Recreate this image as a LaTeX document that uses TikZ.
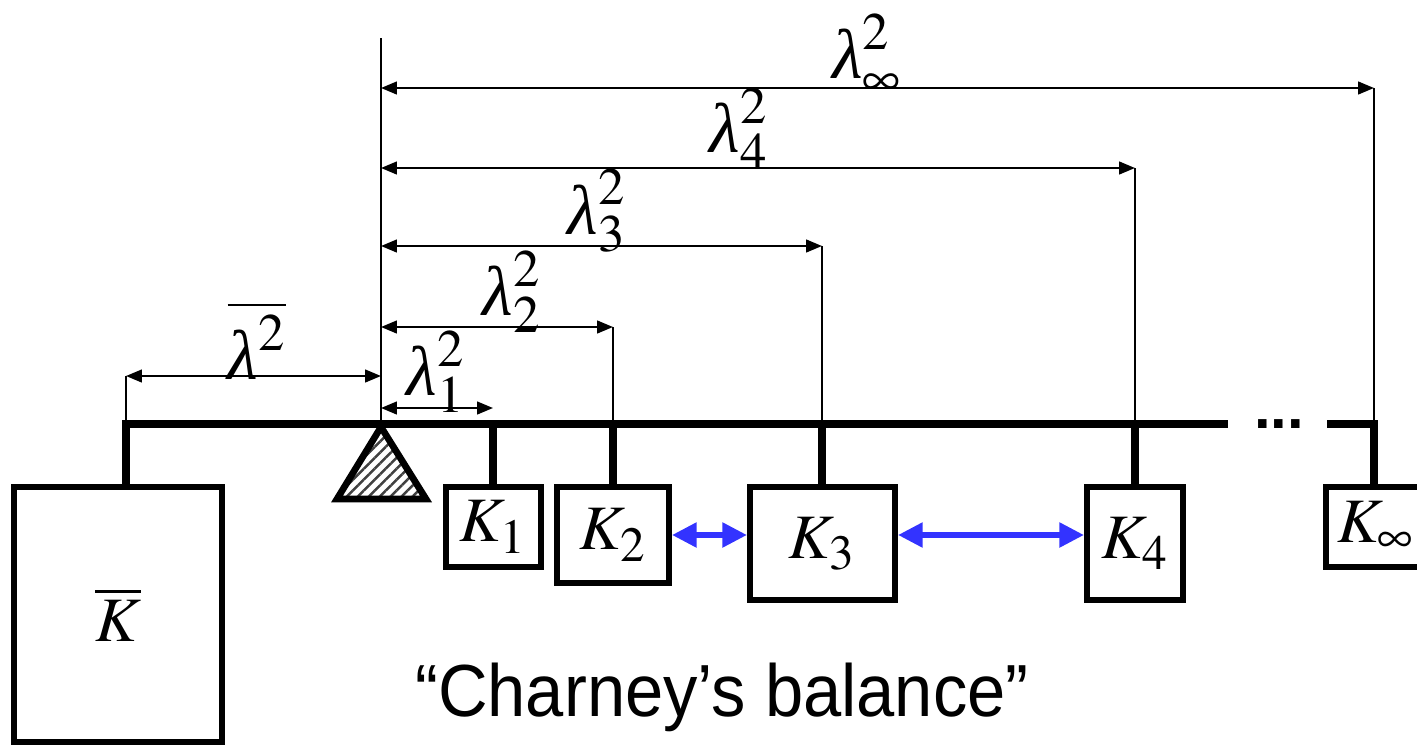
\documentclass[tikz,border=0pt]{standalone}
\usepackage{mathptmx}
\usepackage[no-math]{fontspec}
\newfontfamily\capfont{Liberation Sans}
\newfontfamily\grfont{Liberation Serif}
\usetikzlibrary{arrows.meta,patterns.meta}
\DeclareMathSizes{18}{18}{14}{11}
\DeclareMathSizes{20}{20}{15}{12}
\definecolor{arrblue}{RGB}{51,51,255}
\newcommand\kfont{\fontsize{18}{20}\selectfont}
\newcommand\lamfont{\fontsize{20}{24}\selectfont}
\newcommand\lam{\mbox{\grfont\itshape λ}}
\begin{document}
\begin{tikzpicture}[x=0.01cm,y=-0.01cm,
  beam/.style={line width=2.3pt, line join=miter},
  hang/.style={line width=2.0pt},
  kbox/.style={draw, line width=1.7pt, fill=white, inner sep=0pt, font=\kfont},
  thin/.style={line width=0.6pt},
  dim/.style={line width=0.6pt, {Triangle[length=4.5pt,width=3.6pt]}-{Triangle[length=4.5pt,width=3.6pt]}},
  barr/.style={line width=1.6pt, arrblue, {Triangle[length=7pt,width=6.8pt]}-{Triangle[length=7pt,width=6.8pt]}},
  lab/.style={font=\lamfont, inner sep=0pt}]
\useasboundingbox (0,0) rectangle (1417,745);
% boxes
\node[kbox, minimum width=2.08cm, minimum height=2.55cm] (Kb) at (118,614.5) {$\overline{K}$};
\node[kbox, minimum width=0.95cm, minimum height=0.80cm] (K1) at (493.5,527) {$K_1$};
\node[kbox, minimum width=1.12cm, minimum height=0.96cm] (K2) at (613,535) {$K_2$};
\node[kbox, minimum width=1.45cm, minimum height=1.13cm] (K3) at (822.5,543.5) {$K_3$};
\node[kbox, minimum width=0.96cm, minimum height=1.13cm] (K4) at (1135,543.5) {$K_4$};
\node[kbox, minimum width=1.00cm, minimum height=0.80cm] (Ki) at (1376,527) {$K_\infty$};
% beam coordinates
\coordinate (bL) at (126,424);
\coordinate (F) at (381,424);
\coordinate (Ftop) at (381,38);
\coordinate (b1) at (493,424);
\coordinate (b2) at (613,424);
\coordinate (b3) at (822,424);
\coordinate (b4) at (1135,424);
\coordinate (bE) at (1228,424);
\coordinate (bS) at (1327,424);
\coordinate (bI) at (1374,424);
% beam and hangers
\draw[beam] (Kb.north -| bL) -- (bL) -- (bE);
\draw[beam] (bS) -- (bI) -- (Ki.north -| bI);
\draw[hang] (b1) -- (K1.north -| b1);
\draw[hang] (b2) -- (K2.north -| b2);
\draw[hang] (b3) -- (K3.north -| b3);
\draw[hang] (b4) -- (K4.north -| b4);
% dots
\node[font=\capfont\bfseries\fontsize{17}{20}\selectfont, inner sep=0pt, anchor=base] (dots) at (1279,428) {...};
% fulcrum
\draw[line width=1.9pt, line join=miter, preaction={fill=white}, pattern={Lines[angle=45,distance=2.2pt,line width=0.7pt]}, pattern color=black!75] (381,427) -- (426,499) -- (337,499) -- cycle;
\draw[thin] (Ftop) -- (F);
% dimension lines
\coordinate (e0) at (126,376);
\coordinate (e1) at (493,408);
\coordinate (e2) at (613,327);
\coordinate (e3) at (822,246);
\coordinate (e4) at (1135,168);
\coordinate (eI) at (1374,88);
\draw[thin] (bL) -- (e0);
\draw[thin] (b2) -- (e2);
\draw[thin] (b3) -- (e3);
\draw[thin] (b4) -- (e4);
\draw[thin] (bI) -- (eI);
\draw[dim] (e0) -- (F |- e0);
\draw[dim] (F |- e1) -- (e1);
\draw[dim] (F |- e2) -- (e2);
\draw[dim] (F |- e3) -- (e3);
\draw[dim] (F |- e4) -- (e4);
\draw[dim] (F |- eI) -- (eI);
% labels
\node[lab] (l0) at (257,340) {$\overline{\lam^2}$};
\node[lab] (l1) at (436,372) {$\lam_1^2$};
\node[lab] (l2) at (512,292) {$\lam_2^2$};
\node[lab] (l3) at (597,211) {$\lam_3^2$};
\node[lab] (l4) at (739,129) {$\lam_4^2$};
\node[lab] (lI) at (867,55) {$\lam_\infty^2$};
% blue arrows
\draw[barr] (K2.east) -- (K2.east -| K3.west);
\draw[barr] (K3.east |- K2.east) -- (K4.west |- K2.east);
% caption
\node[inner sep=0pt, font=\capfont\fontsize{21}{25}\selectfont] (cap) at (722,697) {\scalebox{0.93}[1]{“Charney’s balance”}};
\end{tikzpicture}
\end{document}
